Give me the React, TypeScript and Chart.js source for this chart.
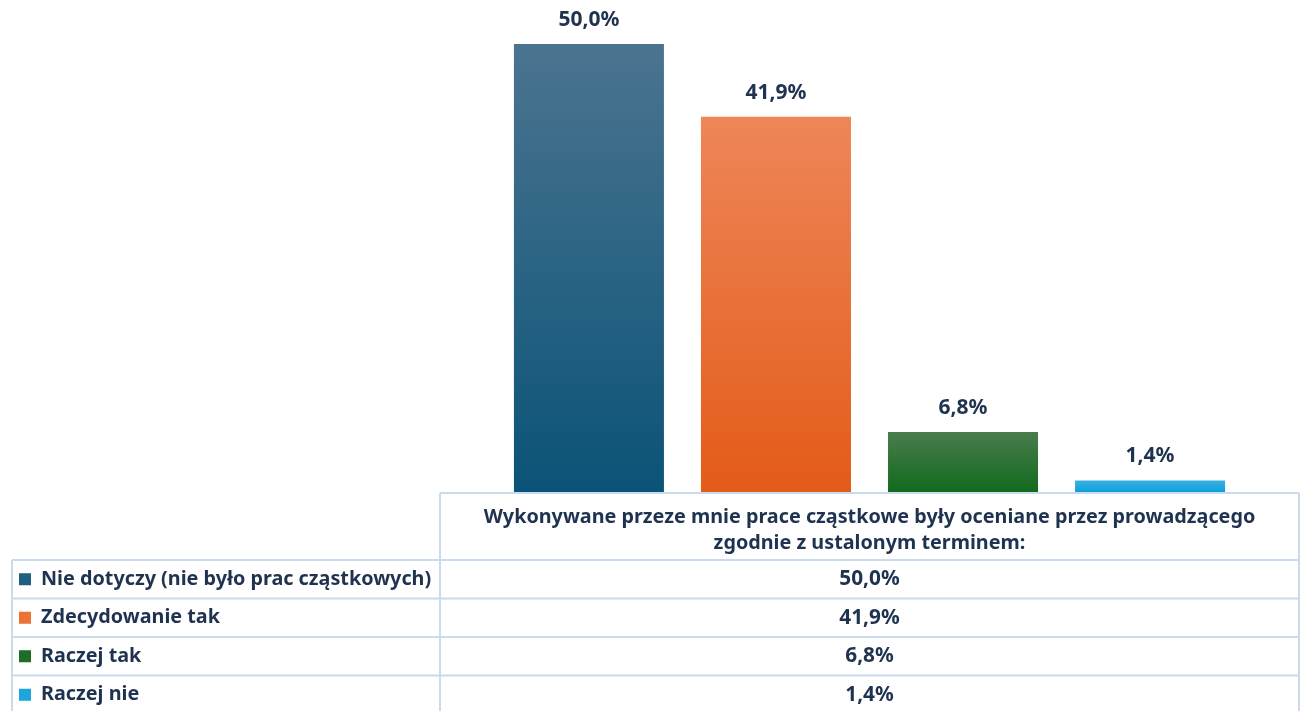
import React, { useEffect, useRef } from "react";
import { Chart, registerables } from "chart.js";

Chart.register(...registerables);

const categories = ["Wykonywane przeze mnie prace cząstkowe były oceniane przez prowadzącego zgodnie z ustalonym terminem:"];
const headerLines = ["Wykonywane przeze mnie prace cząstkowe były oceniane przez prowadzącego", "zgodnie z ustalonym terminem:"];
const seriesNames = ["Nie dotyczy (nie było prac cząstkowych)", "Zdecydowanie tak", "Raczej tak", "Raczej nie"];
const seriesValues = [50.0, 41.9, 6.8, 1.4];
const seriesTop = ["#4b7490", "#ee8659", "#4a7c4e", "#3cb0e2"];
const seriesBottom = ["#0a5377", "#e35b18", "#106a1c", "#079fd9"];
const seriesSolid = ["#1f5f80", "#ec7335", "#1d6e26", "#1ba6dd"];

const TEXT = "#1f3350";
const BORDER = "#c8dbef";
const FONT = "'Noto Sans', 'DejaVu Sans', sans-serif";

const fmt = (v: number) => v.toFixed(1).replace(".", ",") + "%";

export default function App() {
  const ref = useRef<HTMLCanvasElement | null>(null);
  useEffect(() => {
    if (!ref.current) return;

    const labelPlugin = {
      id: "valueLabels",
      afterDatasetsDraw(chart: any) {
        const ctx = chart.ctx;
        ctx.save();
        ctx.fillStyle = TEXT;
        ctx.font = `bold 21px ${FONT}`;
        ctx.textAlign = "center";
        ctx.textBaseline = "middle";
        chart.data.datasets.forEach((ds: any, i: number) => {
          const meta = chart.getDatasetMeta(i);
          meta.data.forEach((el: any, j: number) => {
            ctx.fillText(fmt(ds.data[j]), el.x, el.y - 24);
          });
        });
        ctx.restore();
      },
    };

    const tablePlugin = {
      id: "dataTable",
      afterDraw(chart: any) {
        const ctx = chart.ctx;
        const area = chart.chartArea;
        const left = area.left;
        const right = area.right;
        const top = area.bottom;
        const outerLeft = 12;
        const headerH = 67;
        const rowH = 38.5;
        const n = chart.data.datasets.length;
        const bottom = top + headerH + rowH * n;
        ctx.save();
        ctx.strokeStyle = BORDER;
        ctx.lineWidth = 2;
        ctx.beginPath();
        ctx.moveTo(left, top);
        ctx.lineTo(right, top);
        ctx.moveTo(left, top);
        ctx.lineTo(left, bottom);
        ctx.moveTo(right, top);
        ctx.lineTo(right, bottom);
        ctx.moveTo(outerLeft, top + headerH);
        ctx.lineTo(outerLeft, bottom);
        for (let i = 0; i <= n; i++) {
          const y = top + headerH + rowH * i;
          ctx.moveTo(outerLeft, y);
          ctx.lineTo(right, y);
        }
        ctx.stroke();

        const cx = (left + right) / 2;
        ctx.fillStyle = TEXT;
        ctx.textBaseline = "middle";
        ctx.textAlign = "center";
        ctx.font = `bold 19.8px ${FONT}`;
        ctx.fillText(headerLines[0], cx, top + 24);
        ctx.fillText(headerLines[1], cx, top + 50);

        chart.data.datasets.forEach((ds: any, i: number) => {
          const yMid = top + headerH + rowH * i + rowH / 2;
          ctx.fillStyle = seriesSolid[i];
          ctx.fillRect(19, yMid - 6, 12, 12);
          ctx.fillStyle = TEXT;
          ctx.textAlign = "left";
          ctx.font = `bold 19.8px ${FONT}`;
          ctx.fillText(ds.label, 41, yMid);
          ctx.textAlign = "center";
          ctx.font = `bold 20.8px ${FONT}`;
          ctx.fillText(fmt(ds.data[0]), cx, yMid);
        });
        ctx.restore();
      },
    };

    const chart = new Chart(ref.current, {
      type: "bar",
      data: {
        labels: categories,
        datasets: seriesNames.map((name, i) => ({
          label: name,
          data: [seriesValues[i]],
          backgroundColor: (c: any) => {
            const ch = c.chart;
            const area = ch.chartArea;
            if (!area || c.raw == null) return seriesSolid[i];
            const yTop = ch.scales.y.getPixelForValue(c.raw);
            const g = ch.ctx.createLinearGradient(0, yTop, 0, area.bottom);
            g.addColorStop(0, seriesTop[i]);
            g.addColorStop(1, seriesBottom[i]);
            return g;
          },
          borderWidth: 0,
          categoryPercentage: 0.871,
          barPercentage: 0.802,
        })),
      },
      options: {
        animation: false,
        responsive: false,
        maintainAspectRatio: false,
        layout: { padding: { left: 440, right: 2, top: 44, bottom: 218 } },
        plugins: { legend: { display: false }, tooltip: { enabled: false } },
        scales: {
          x: { display: false },
          y: { display: false, min: 0, max: 50 },
        },
      },
      plugins: [labelPlugin, tablePlugin],
    });
    return () => chart.destroy();
  }, []);

  return (
    <div style={{ position: "fixed", left: 0, top: 0, width: 1301, height: 711, background: "#fff" }}>
      <canvas ref={ref} width={1301} height={711} style={{ width: 1301, height: 711, display: "block" }} />
    </div>
  );
}
